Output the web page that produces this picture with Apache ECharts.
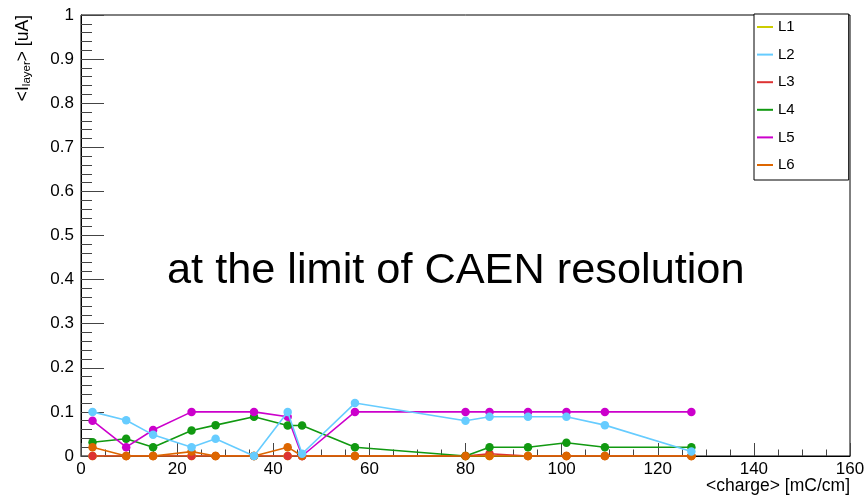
<!DOCTYPE html>
<html>
<head>
<meta charset="utf-8">
<script src="https://cdn.jsdelivr.net/npm/echarts@6/dist/echarts.min.js"></script>
<style>
html, body { margin: 0; padding: 0; background: #fff; }
#main { width: 865px; height: 496px; }
</style>
</head>
<body>
<div id="main"></div>
<script>
// mean charge per point [mC/cm]
const charge = [2.4, 9.4, 15, 23, 28, 36, 43, 46, 57, 80, 85, 93, 101, 109, 127]

// mean layer current [uA]
const l1 = [0, 0, 0, 0, 0, 0, 0, 0, 0, 0, 0, 0, 0, 0, 0]
const l2 = [0.1, 0.081, 0.048, 0.02, 0.039, 0, 0.1, 0.005, 0.12, 0.08, 0.089, 0.089, 0.089, 0.07, 0.01]
const l3 = [0, 0, 0, 0, 0, 0, 0, 0, 0, 0, 0.005, 0, 0, 0, 0]
const l4 = [0.031, 0.039, 0.02, 0.058, 0.07, 0.089, 0.069, 0.069, 0.02, 0, 0.02, 0.02, 0.03, 0.02, 0.02]
const l5 = [0.08, 0.02, 0.059, 0.1, null, 0.1, 0.089, 0, 0.1, 0.1, 0.1, 0.1, 0.1, 0.1, 0.1]
const l6 = [0.02, 0, 0, 0.01, 0, 0, 0.02, 0, 0, 0, 0, 0, 0, 0, 0]

const names = ['L1', 'L2', 'L3', 'L4', 'L5', 'L6']
const values = [l1, l2, l3, l4, l5, l6]
const colors = ['#cccc00', '#66ccff', '#dd3333', '#119911', '#cc00cc', '#dd6600']

const chart = echarts.init(document.getElementById('main'))

const pairs = (ys) => charge.map((x, i) => [x, ys[i]]).filter((p) => p[1] !== null)

chart.setOption({
    animation: false,
    textStyle: { fontFamily: 'Liberation Sans, Arial, sans-serif' },
    grid: {
        left: 81,
        right: 15,
        top: 15,
        bottom: 40,
        show: true,
        borderColor: '#000',
        borderWidth: 1,
        outerBoundsMode: 'none',
    },
    legend: {
        data: names,
        orient: 'vertical',
        left: 754,
        top: 14,
        padding: [5, 54, 7, 3],
        itemWidth: 16,
        itemHeight: 2,
        itemGap: 11.6,
        icon: 'rect',
        backgroundColor: '#fff',
        borderColor: '#000',
        borderWidth: 1,
        textStyle: { fontSize: 15, color: '#000', lineHeight: 16 },
    },
    graphic: [
        {
            type: 'text',
            left: 167,
            top: 250,
            style: {
                text: 'at the limit of CAEN resolution',
                fontSize: 43.3,
                fill: '#000',
                fontFamily: 'Liberation Sans, Arial, sans-serif',
            },
        },
    ],
    xAxis: {
        type: 'value',
        min: 0,
        max: 160,
        interval: 20,
        name: '<charge> [mC/cm]',
        nameLocation: 'end',
        nameGap: 0,
        nameMoveOverlap: false,
        nameTextStyle: { fontSize: 17.5, color: '#000', align: 'right', verticalAlign: 'top', padding: [21, 0, 0, 0] },
        axisLine: { lineStyle: { color: '#000', width: 1 } },
        axisTick: { inside: true, length: 13, lineStyle: { color: '#444' } },
        minorTick: { show: true, splitNumber: 4, length: 6.5, lineStyle: { color: '#444' } },
        splitLine: { show: false },
        axisLabel: { fontSize: 17, color: '#000', margin: 5 },
    },
    yAxis: {
        type: 'value',
        min: 0,
        max: 1,
        interval: 0.1,
        name: '{a|<I}{s|layer}{a|> [uA]}',
        nameLocation: 'end',
        nameGap: 0,
        nameRotate: 90,
        nameMoveOverlap: false,
        nameTextStyle: {
            align: 'right',
            verticalAlign: 'bottom',
            padding: [0, 0, 48, 0],
            rich: {
                a: { fontSize: 17.5, color: '#000', lineHeight: 20 },
                s: { fontSize: 11.5, color: '#000', lineHeight: 20, verticalAlign: 'bottom', padding: [9, 0, 0, 0] },
            },
        },
        axisLine: { show: true, lineStyle: { color: '#000', width: 1 } },
        axisTick: { inside: true, length: 23, lineStyle: { color: '#444' } },
        minorTick: { show: true, splitNumber: 5, length: 11, lineStyle: { color: '#444' } },
        splitLine: { show: false },
        axisLabel: { fontSize: 17, color: '#000', margin: 7 },
    },
    series: names.map((name, i) => ({
        name: name,
        type: 'line',
        data: pairs(values[i]),
        z: name === 'L2' ? 3 : 2,
        symbol: 'circle',
        symbolSize: 8.5,
        color: colors[i],
        lineStyle: { width: 1.6 },
        connectNulls: true,
    })),
})
</script>
</body>
</html>
